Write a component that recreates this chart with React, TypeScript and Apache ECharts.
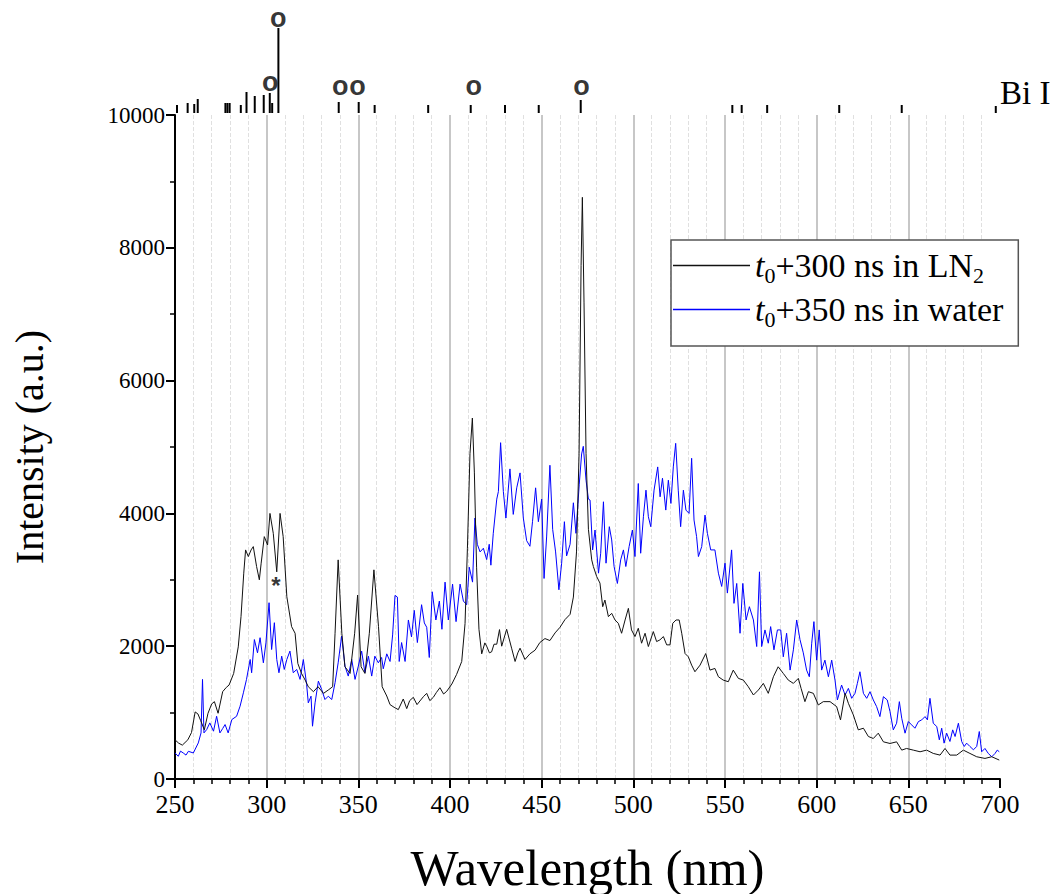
import React, { useEffect, useRef } from "react";
import * as echarts from "echarts";

// ---- Data ----
const xTicks = [250, 300, 350, 400, 450, 500, 550, 600, 650, 700];
const yTicks = [0, 2000, 4000, 6000, 8000, 10000];

const lnWavelength = [
  250, 252, 254, 257, 259, 261, 262.5, 264, 266, 268, 270, 271.5, 273.5, 276, 278, 279.5, 282, 284.5, 286, 287.5,
  288.5, 290, 291.5, 292.7, 294.5, 296, 297, 298.7, 300.5, 301.8, 303.6, 305.5, 307.3, 309, 311, 313.6, 315.5, 317,
  319, 321, 322.7, 325.5, 328, 331, 333.6, 336, 337.3, 339, 341, 342.7, 345.5, 348, 349.6, 351.5, 353.6, 356, 358.5,
  361, 363, 365.5, 367.3, 369.5, 371.8, 374.5, 376.4, 378, 380, 382, 383.6, 385.5, 387.3, 389, 390.9, 392.5, 394.5,
  396.5, 398.2, 401, 403.6, 406.4, 408.2, 409.5, 410.9, 412.2, 413.3, 414.5, 415.8, 417.3, 419, 420, 421.5, 422.7,
  424, 425.5, 427, 428.2, 430.9, 433.6, 435.5, 437, 438.2, 440.9, 443.6, 446.4, 449, 451.8, 454.5, 457.3, 460,
  462.7, 465.5, 467.3, 469, 470.4, 471.5, 472.2, 473.1, 474.2, 475.5, 477.3, 478.2, 480, 481.8, 483.3, 484.5, 486.4,
  488.2, 490, 491.8, 493.6, 495.5, 497.3, 499, 500.9, 502.7, 504.5, 506.4, 508.2, 510.9, 512.7, 514.5, 516.4, 518.2,
  520, 521.5, 523.3, 525, 526.4, 528.2, 530, 531.8, 533.6, 536.4, 539.5, 541.8, 544.5, 546.4, 549, 551.8, 554.5,
  557.3, 560, 562.7, 565.5, 568.2, 570.9, 573.6, 576.4, 579, 581.8, 584.5, 587.3, 590, 591.5, 593.6, 595.5, 598.2,
  600.9, 603.6, 607.3, 610.9, 613, 615.5, 617.3, 620, 622.7, 625.5, 628.2, 630.9, 633.6, 636.4, 640, 643.6, 646.4,
  649, 652.7, 656.4, 660, 663.6, 667.3, 670, 672.7, 676.4, 680, 683.6, 687.3, 691.8, 695.5, 699.6,
];
const lnIntensity = [
  590, 540, 510, 590, 700, 1010, 980, 880, 740, 990, 1130, 1165, 990, 1315, 1380, 1415, 1590, 1990, 2445, 3100,
  3450, 3350, 3450, 3500, 3200, 3000, 3250, 3650, 3525, 4000, 3700, 3120, 4000, 3650, 2745, 2295, 2195, 1740,
  1590, 1490, 1390, 1315, 1390, 1290, 1340, 1390, 2195, 3300, 2195, 1690, 1590, 2195, 2770, 1690, 1590, 2195, 3150,
  2295, 1390, 1250, 1120, 1080, 1045, 1205, 1060, 1180, 1230, 1120, 1175, 1240, 1290, 1180, 1230, 1300, 1375,
  1280, 1320, 1430, 1575, 1770, 2340, 3475, 4900, 5436, 4610, 3190, 2255, 1885, 2050, 2000, 1900, 1915,
  2030, 2030, 2250, 2000, 2255, 1970, 1770, 1900, 1970, 1800, 1885, 1940, 2055, 2115, 2085, 2200, 2285,
  2400, 2480, 2740, 3420, 4900, 7735, 8760, 7170, 4900, 3760, 3300, 3200, 3050, 2950, 2595, 2695, 2445,
  2495, 2395, 2345, 2195, 2395, 2570, 2245, 2145, 2270, 2045, 2195, 1995, 2220, 2070, 2095, 2145, 2020,
  2020, 2345, 2395, 2395, 2195, 1890, 1840, 1715, 1615, 1715, 1890, 1640, 1665, 1540, 1490, 1465, 1640,
  1515, 1490, 1390, 1265, 1340, 1440, 1290, 1540, 1690, 1590, 1490, 1440, 1515, 1365, 1165, 1315, 1290,
  1115, 1165, 1165, 1090, 890, 1290, 1140, 965, 740, 765, 640, 610, 690, 560, 535, 560, 435,
  460, 435, 410, 435, 385, 360, 460, 360, 360, 435, 385, 335, 310, 335, 285,
];

const waterWavelength = [
  250, 251.8, 253, 254.5, 256, 257.3, 260, 262.7, 264.2, 265, 265.8, 267.3, 269, 271, 272.7, 274.5, 276, 277.3, 279,
  281, 283.6, 285.5, 287.3, 289, 291, 291.8, 293.3, 295, 296.4, 298.2, 299.6, 301.3, 302.7, 304.2, 305.5, 306.7,
  308.2, 309.6, 311, 312.7, 314.5, 316.4, 318.2, 320, 321.8, 322.7, 324.2, 325, 326.4, 328.2, 330, 331.8, 333.6,
  335.5, 337.3, 339, 340.9, 342.7, 344.5, 346.4, 348.2, 350, 351.8, 353.6, 355.5, 357.3, 359, 360.9, 362.7, 363.6,
  365.5, 367.3, 368.7, 370, 371.3, 372.3, 373.6, 375.5, 377.3, 379, 380.5, 382.2, 384.5, 386, 387.3, 388.7, 390.3,
  392.3, 394.2, 395.6, 397.3, 399.1, 401.4, 403.3, 405.5, 407.3, 409.1, 410.5, 412.3, 413.6, 414.9, 416.4, 418.2,
  420, 421.4, 422.3, 423.6, 425.5, 426.4, 427.6, 429.1, 430.5, 432.7, 434.5, 436.4, 438.2, 440, 441.8, 443.6, 445,
  446.7, 448.2, 450, 451.3, 452.7, 454.5, 456, 457.6, 459.4, 460.9, 462.4, 463.6, 465.5, 467.3, 468.7, 470.5, 471.8,
  472.7, 474.2, 475.5, 476.4, 477.8, 479.1, 481, 482.2, 483.7, 485.1, 486.9, 488.2, 489.5, 491.3, 493.1, 494.6,
  495.9, 497.7, 499.5, 500.9, 502.7, 504, 505.5, 506.9, 508.2, 509.5, 511.3, 513.3, 514.6, 515.9, 517.7, 519.1,
  520.5, 521.8, 523.1, 524.5, 525.8, 527.3, 528.7, 530.4, 531.8, 533.1, 534.5, 535.5, 537.3, 539.1, 540.4, 542.2,
  544.5, 546.4, 548.2, 550, 551.3, 553.6, 554.9, 556.4, 558.2, 559.7, 561.5, 563.3, 565.5, 567.3, 568.8, 570,
  571.8, 573.6, 574.9, 576.7, 578.6, 580.4, 581.8, 583.6, 585.5, 587.3, 589.1, 590.9, 592.7, 594.5, 596, 597.3,
  598.5, 600, 601.4, 602.7, 604.5, 606.4, 608.2, 610, 611.3, 613.6, 615.5, 617.3, 619.1, 620.9, 622.2, 623.6,
  625.5, 627.3, 629.1, 630.9, 632.7, 634.5, 636.4, 638.5, 640, 641.8, 643.6, 645.1, 646.4, 648.2, 650, 651.8,
  653.6, 655.5, 657.3, 659.1, 660.4, 661.8, 663.6, 665.5, 666.9, 668.2, 669.5, 670.9, 672.7, 674.2, 675.5, 677.3,
  679.1, 680.5, 681.8, 683.6, 685.5, 687.3, 688.7, 690, 691.8, 693.6, 695.5, 697.3, 698.5, 699.6,
];
const waterIntensity = [
  392, 342, 420, 392, 360, 417, 392, 543, 694, 1500, 694, 745, 845, 720, 945, 694, 760, 820, 694,
  895, 945, 1097, 1298, 1500, 1800, 1600, 2100, 1900, 2128, 1750, 2050, 2655, 1950, 2354, 1800, 1600,
  1850, 1650, 1800, 1926, 1600, 1650, 1500, 1800, 1423, 1147, 1247, 795, 1147, 1474, 1348, 1197, 1247,
  1197, 1450, 1750, 2153, 1700, 1550, 1800, 1500, 1700, 1926, 1600, 1850, 1550, 1850, 1750, 1830, 1660,
  1885, 1770, 2170, 2765, 2740, 1770, 2055, 1770, 2395, 2140, 2540, 2055, 2625, 2350, 2285, 1830, 2820,
  2395, 2680, 2255, 2965, 2395, 2935, 2370, 2935, 2680, 2625, 3190, 2965, 3930, 3535, 3420, 3475,
  3305, 3535, 3220, 3700, 4215, 4330, 5065, 4330, 3930, 4670, 3985, 4385, 4610, 3930, 3590, 3505, 3875,
  4385, 3875, 4215, 3020, 3645, 4725, 3760, 3420, 2850, 3250, 3875, 3360, 3535, 4160, 3700, 4440, 4895,
  5010, 4500, 4215, 4200, 3450, 3750, 3100, 3400, 4175, 3250, 3800, 3600, 3200, 2945, 3300, 3450,
  3200, 3500, 3750, 3350, 4450, 3400, 3950, 4350, 3950, 3800, 4350, 4700, 4250, 4530, 4050, 4500,
  4150, 4700, 5055, 4350, 3800, 4350, 4050, 4000, 4830, 3900, 3650, 3350, 3500, 3975, 3700, 3450,
  3450, 3100, 2900, 3250, 2800, 3450, 2645, 2945, 2195, 2945, 2395, 2595, 2395, 1995, 3120, 1995,
  2245, 2045, 2295, 1945, 2245, 2245, 1840, 2195, 1640, 1945, 2395, 2100, 1900, 1640, 1540, 2045,
  2370, 1790, 2245, 1640, 1790, 1540, 1790, 1490, 1190, 1415, 1265, 1365, 1215, 1290, 1440, 1615,
  1290, 1215, 1315, 1190, 1090, 940, 1240, 1190, 1015, 740, 840, 1165, 915, 690, 865, 815,
  765, 865, 890, 940, 890, 1215, 840, 790, 590, 765, 540, 690, 565, 740, 640, 840,
  565, 490, 540, 490, 440, 490, 715, 410, 460, 385, 335, 385, 435, 410,
];

// Bi I reference lines (wavelength, relative line height) and marked lines
const biLineWavelength = [
  251.1, 256.9, 260.5, 262.4, 277.5, 278.6, 279.8, 285.9, 289, 293.5, 298.4, 301.7, 303, 306.4, 339.3, 350.2,
  358.9, 388.1, 411.3, 430, 448.4, 471.3, 554, 559.1, 573, 612.3, 646.4, 697.7,
];
const biLineHeight = [
  8, 10, 9, 14, 10, 10, 10, 8, 21, 17, 18, 20, 10, 85, 11, 11, 8, 8, 8, 8, 8, 13, 8, 8, 8, 8, 8, 7,
];
const biMarkWavelength = [306.3, 301.9, 340.1, 349.6, 412.9, 471.7];
const biMarkLevel = [92, 28, 24, 24, 24, 24];

const asteriskPoint = [305, 2980];

const seriesNames = ["t0+300 ns in LN2", "t0+350 ns in water"];

const SERIF = "Liberation Serif";
const SANS = "Liberation Sans";

export default function App() {
  const ref = useRef<HTMLDivElement>(null);

  useEffect(() => {
    if (!ref.current) return;
    const chart = echarts.init(ref.current, null, { renderer: "svg" });

    const lnData = lnWavelength.map((w, i) => [w, lnIntensity[i]]);
    const waterData = waterWavelength.map((w, i) => [w, waterIntensity[i]]);
    const biLines = biLineWavelength.map((w, i) => [w, biLineHeight[i]]);
    const biMarks = biMarkWavelength.map((w, i) => [w, biMarkLevel[i]]);

    const option: any = {
      animation: false,
      backgroundColor: "#ffffff",
      textStyle: { fontFamily: SERIF, color: "#000" },
      grid: [
        { left: 175, right: 54, top: 115, bottom: 115, containLabel: false, outerBoundsMode: "none" },
        { left: 175, right: 54, top: 0, height: 113, containLabel: false, outerBoundsMode: "none" },
      ],
      xAxis: [
        {
          type: "value",
          gridIndex: 0,
          min: xTicks[0],
          max: xTicks[xTicks.length - 1],
          interval: 50,
          name: "Wavelength (nm)",
          nameLocation: "middle",
          nameGap: 63,
          nameTextStyle: { fontFamily: SERIF, fontSize: 51, color: "#000" },
          axisLine: { show: true, onZero: false, lineStyle: { color: "#000", width: 2 } },
          axisTick: { show: true, inside: false, length: 9, lineStyle: { color: "#000", width: 2 } },
          minorTick: { show: true, splitNumber: 5, length: 5, lineStyle: { color: "#000", width: 1.5 } },
          axisLabel: {
            color: "#000",
            margin: 12,
            fontFamily: SERIF,
            fontSize: 26,
            formatter: (v: number) => String(v),
          },
          splitLine: { show: true, showMaxLine: false, lineStyle: { color: "#b4b4b4", width: 1.5 } },
          minorSplitLine: { show: true, lineStyle: { color: "#e0e0e0", width: 1, type: "dashed" } },
        },
        { type: "value", gridIndex: 1, min: 250, max: 700, show: false },
      ],
      yAxis: [
        {
          type: "value",
          gridIndex: 0,
          min: yTicks[0],
          max: yTicks[yTicks.length - 1],
          interval: 2000,
          name: "Intensity (a.u.)",
          nameLocation: "middle",
          nameGap: 126,
          nameTextStyle: { fontFamily: SERIF, fontSize: 40, color: "#000" },
          axisLine: { show: true, lineStyle: { color: "#000", width: 2 } },
          axisTick: { show: true, inside: false, length: 9, lineStyle: { color: "#000", width: 2 } },
          minorTick: { show: true, splitNumber: 2, length: 5, lineStyle: { color: "#000", width: 1.5 } },
          axisLabel: {
            color: "#000",
            margin: 10,
            fontFamily: SERIF,
            fontSize: 23,
            formatter: (v: number) => String(v),
          },
          splitLine: { show: false },
        },
        { type: "value", gridIndex: 1, min: 0, max: 113, show: false },
      ],
      legend: {
        data: seriesNames.map((n) => ({ name: n, icon: "rect" })),
        orient: "vertical",
        left: 671,
        top: 240,
        itemWidth: 77,
        itemHeight: 1.5,
        itemGap: 3,
        padding: [5, 15, 16, 2],
        borderColor: "#555",
        borderWidth: 1.5,
        backgroundColor: "#fff",
        formatter: (name: string) =>
          name === seriesNames[0]
            ? "{i|t}{s|0}{n|+300 ns in LN}{s|2}"
            : "{i|t}{s|0}{n|+350 ns in water}",
        textStyle: {
          color: "#000",
          fontFamily: SERIF,
          fontSize: 34,
          rich: {
            i: { fontFamily: SERIF, fontStyle: "italic", fontSize: 34, lineHeight: 40, color: "#000" },
            n: { fontFamily: SERIF, fontSize: 34, lineHeight: 40, color: "#000" },
            s: { fontFamily: SERIF, fontSize: 22, lineHeight: 21, padding: [19, 0, 0, 0], color: "#000" },
          },
        },
      },
      graphic: [
        {
          type: "text",
          left: 1000,
          top: 76,
          style: { text: "Bi I", fontFamily: SERIF, fontSize: 33, fill: "#000" },
        },
      ],
      series: [
        {
          name: seriesNames[1],
          type: "line",
          xAxisIndex: 0,
          yAxisIndex: 0,
          data: waterData,
          showSymbol: false,
          symbol: "none",
          color: "#0000ff",
          lineStyle: { color: "#0000ff", width: 1 },
          z: 3,
        },
        {
          name: seriesNames[0],
          type: "line",
          xAxisIndex: 0,
          yAxisIndex: 0,
          data: lnData,
          showSymbol: false,
          symbol: "none",
          color: "#111111",
          lineStyle: { color: "#111111", width: 1 },
          z: 4,
        },
        {
          name: "asterisk",
          type: "scatter",
          xAxisIndex: 0,
          yAxisIndex: 0,
          data: [asteriskPoint],
          symbolSize: 0,
          label: {
            show: true,
            position: "inside",
            formatter: "*",
            fontFamily: SANS,
            fontWeight: "bold",
            fontSize: 24,
            color: "#000",
            offset: [0, 4],
          },
          z: 5,
        },
        {
          name: "Bi I lines",
          type: "bar",
          xAxisIndex: 1,
          yAxisIndex: 1,
          data: biLines,
          barWidth: 2,
          itemStyle: { color: "#000" },
        },
        {
          name: "Bi I marks",
          type: "scatter",
          xAxisIndex: 1,
          yAxisIndex: 1,
          data: biMarks,
          symbolSize: 0,
          label: {
            show: true,
            position: "inside",
            formatter: "o",
            fontFamily: SANS,
            fontWeight: "bold",
            fontSize: 27,
            color: "#000",
            offset: [0, -3],
          },
        },
      ],
    };

    chart.setOption(option);
    return () => chart.dispose();
  }, []);

  return (
    <div
      ref={ref}
      style={{ position: "absolute", left: 0, top: 0, width: 1054, height: 894, background: "#fff" }}
    />
  );
}
